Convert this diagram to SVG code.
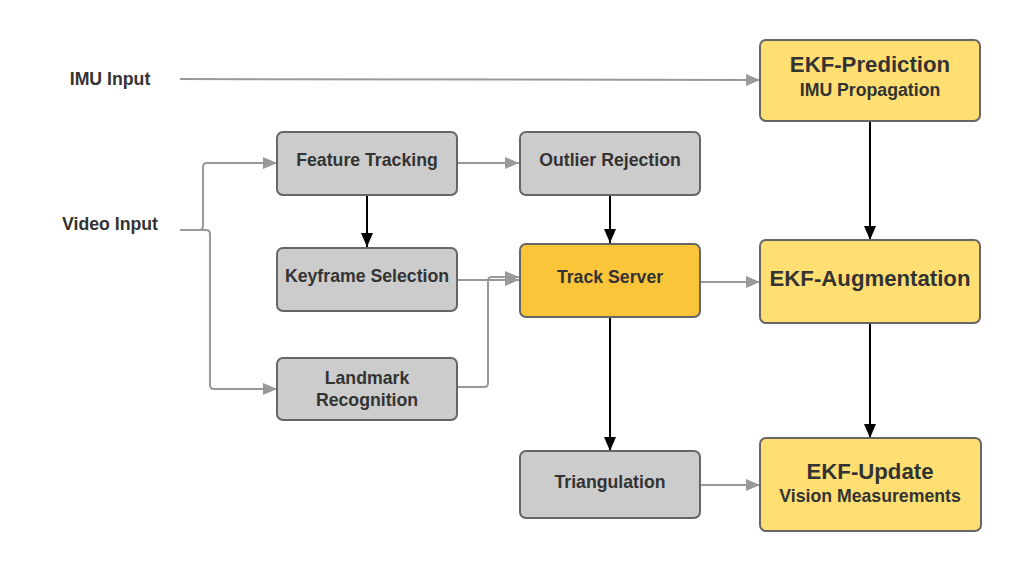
<svg xmlns="http://www.w3.org/2000/svg" width="1022" height="572" viewBox="0 0 1022 572">
<style>
text{font-family:"Liberation Sans",Arial,sans-serif;font-weight:bold;fill:#333333;text-anchor:middle}
.s{font-size:17.7px}
.l{font-size:22.2px}
.g{fill:#cccccc;stroke:#666666;stroke-width:2}
.y{fill:#ffdf71;stroke:#666666;stroke-width:2}
.o{fill:#fbc53a;stroke:#666666;stroke-width:2}
.cg{fill:none;stroke:#999999;stroke-width:2;marker-end:url(#ag)}
.cb{fill:none;stroke:#000000;stroke-width:2;marker-end:url(#ab)}
</style>
<defs>
<marker id="ag" markerUnits="userSpaceOnUse" markerWidth="16" markerHeight="14" refX="14" refY="7" orient="auto"><path d="M0,1 L14,7 L0,13 Z" fill="#999999"/></marker>
<marker id="ab" markerUnits="userSpaceOnUse" markerWidth="16" markerHeight="14" refX="14" refY="7" orient="auto"><path d="M0,1 L14,7 L0,13 Z" fill="#000000"/></marker>
</defs>
<rect width="1022" height="572" fill="#ffffff"/>
<g id="connectors">
<path class="cg" d="M180,79 L760,80"/>
<path class="cg" d="M180,230 L199,230 Q203,230 203,226 L203,167 Q203,163 207,163 L277,163"/>
<path class="cg" d="M180,230 L206,230 Q210,230 210,234 L210,385 Q210,389 214,389 L277,389"/>
<path class="cg" d="M457,163 L519,163"/>
<path class="cb" d="M367,195 L367,247"/>
<path class="cg" d="M457,280 L519,280"/>
<path class="cg" d="M457,387 L484,387 Q488,387 488,383 L488,281 Q488,277 492,277 L519,277"/>
<path class="cb" d="M610,195 L610,243"/>
<path class="cg" d="M700,282 L760,282"/>
<path class="cb" d="M610,317 L610,451"/>
<path class="cg" d="M700,485 L760,485"/>
<path class="cb" d="M870,121 L870,240"/>
<path class="cb" d="M870,323 L870,438"/>
</g>
<g id="imu-input"><text class="s" x="110" y="85">IMU Input</text></g>
<g id="video-input"><text class="s" x="110" y="230">Video Input</text></g>
<g id="feature-tracking"><rect class="g" x="277" y="132" width="180" height="63" rx="6"/><text class="s" x="367" y="166">Feature Tracking</text></g>
<g id="keyframe-selection"><rect class="g" x="277" y="248" width="180" height="63" rx="6"/><text class="s" x="367" y="282">Keyframe Selection</text></g>
<g id="landmark-recognition"><rect class="g" x="277" y="358" width="180" height="62" rx="6"/><text class="s" x="367" y="384">Landmark</text><text class="s" x="367" y="406">Recognition</text></g>
<g id="outlier-rejection"><rect class="g" x="520" y="132" width="180" height="63" rx="6"/><text class="s" x="610" y="166">Outlier Rejection</text></g>
<g id="track-server"><rect class="o" x="520" y="244" width="180" height="73" rx="6"/><text class="s" x="610" y="283">Track Server</text></g>
<g id="triangulation"><rect class="g" x="520" y="451" width="180" height="67" rx="6"/><text class="s" x="610" y="488">Triangulation</text></g>
<g id="ekf-prediction"><rect class="y" x="760" y="40" width="220" height="81" rx="6"/><text class="l" x="870" y="72">EKF-Prediction</text><text class="s" x="870" y="96">IMU Propagation</text></g>
<g id="ekf-augmentation"><rect class="y" x="760" y="240" width="220" height="83" rx="6"/><text class="l" x="870" y="286">EKF-Augmentation</text></g>
<g id="ekf-update"><rect class="y" x="760" y="438" width="221" height="93" rx="6"/><text class="l" x="870" y="479">EKF-Update</text><text class="s" x="870" y="502">Vision Measurements</text></g>
</svg>
